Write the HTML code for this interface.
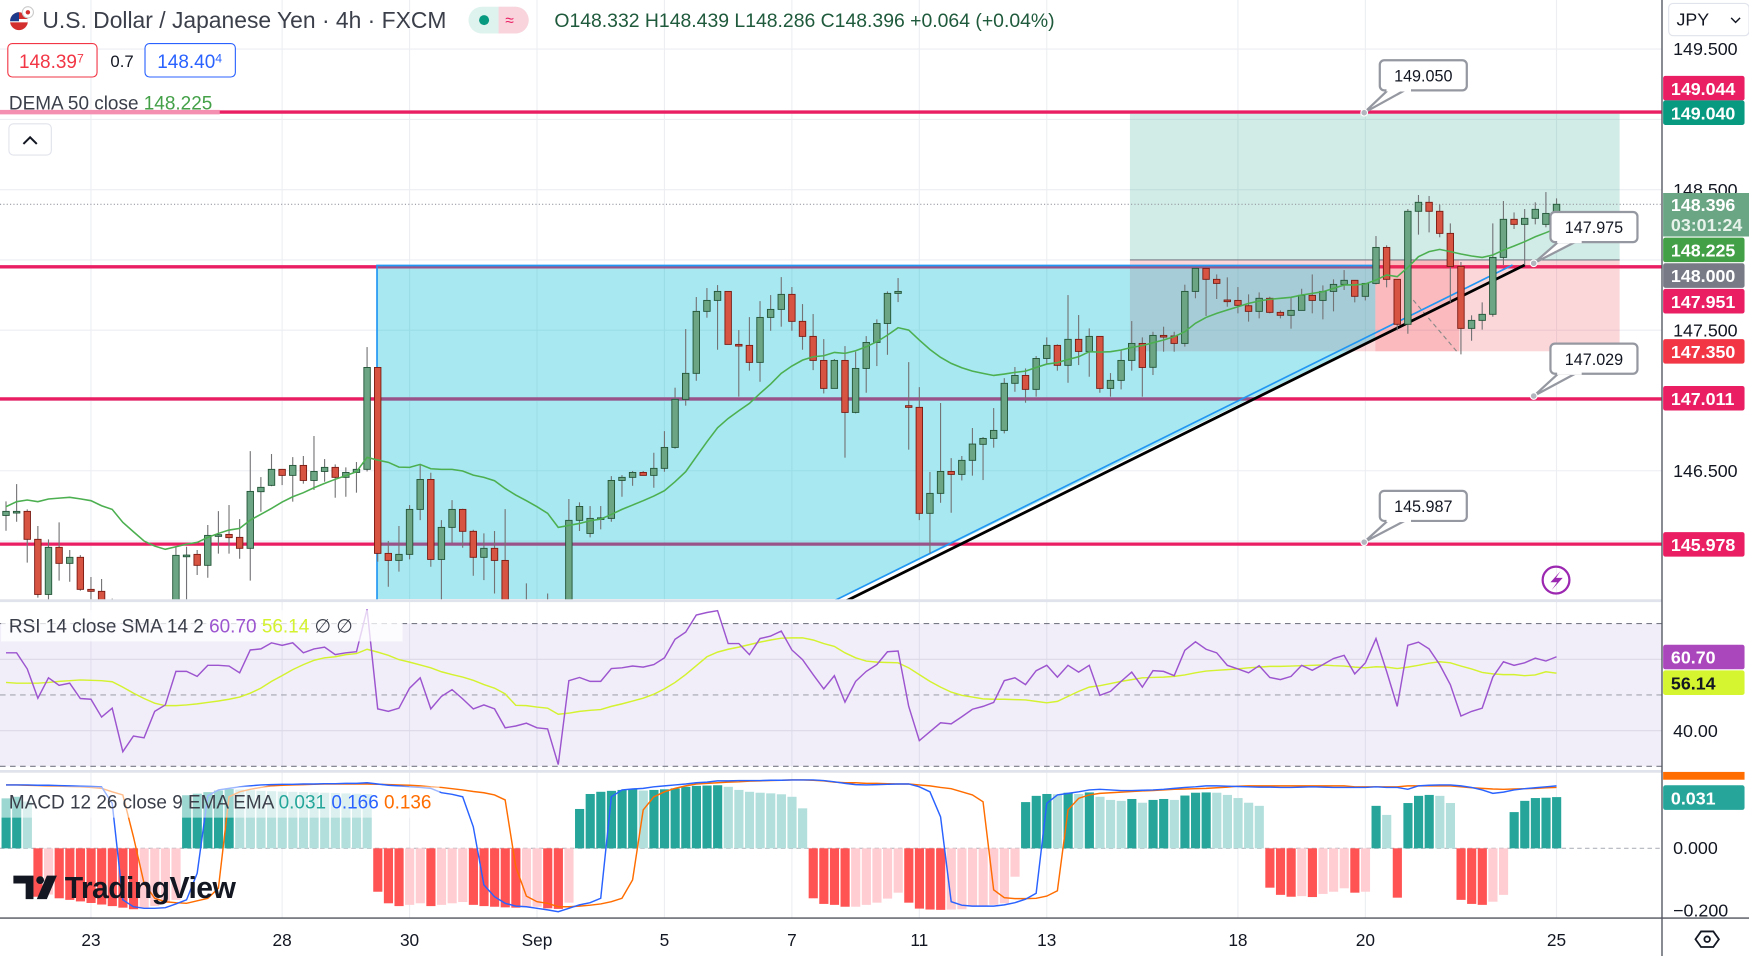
<!DOCTYPE html>
<html><head><meta charset="utf-8">
<style>
html,body{margin:0;padding:0;background:#fff;}
svg{display:block;font-family:"Liberation Sans",sans-serif;}
</style></head>
<body>
<svg id="chart" xmlns="http://www.w3.org/2000/svg" viewBox="0 0 1568 857" width="1749" height="956">
<defs>
<clipPath id="mainClip"><rect x="0" y="0" width="1490" height="538"/></clipPath>
<clipPath id="rsiClip"><rect x="0" y="540" width="1490" height="151"/></clipPath>
<clipPath id="macdClip"><rect x="0" y="693" width="1490" height="129"/></clipPath>
</defs>
<rect x="0" y="0" width="1568" height="857" fill="#ffffff"/>
<g id="grid"></g>
<g id="main" clip-path="url(#mainClip)"></g>
<g id="rsi" clip-path="url(#rsiClip)"></g>
<g id="macd" clip-path="url(#macdClip)"></g>
<g id="overlay"></g>
</svg>
<script>
// ---------- DATA ----------
const opens=[146.182,146.211,146.211,146.012,145.620,145.955,145.841,145.884,145.656,145.642,145.450,145.400,145.350,145.300,145.280,145.250,145.300,145.900,145.905,145.827,146.040,146.047,146.026,145.948,146.351,146.396,146.510,146.467,146.538,146.431,146.495,146.524,146.453,146.488,146.510,147.235,145.912,145.862,145.905,146.225,146.438,145.869,146.097,146.225,146.069,145.884,145.948,145.862,145.300,145.200,145.250,145.150,145.180,145.100,146.147,146.054,146.161,146.161,146.431,146.453,146.488,146.467,146.517,146.666,147.008,147.193,147.634,147.712,147.776,147.399,147.392,147.271,147.591,147.648,147.755,147.563,147.456,147.285,147.086,147.285,146.915,147.228,147.413,147.548,147.762,146.963,146.951,146.197,146.339,146.495,146.474,146.574,146.688,146.730,146.787,147.122,147.178,147.079,147.299,147.392,147.250,147.435,147.349,147.456,147.086,147.143,147.285,147.406,147.236,147.463,147.459,147.406,147.776,147.940,147.862,147.715,147.712,147.674,147.634,147.727,147.627,147.606,147.641,147.748,147.712,147.776,147.826,147.855,147.741,147.833,148.089,147.862,147.542,148.346,148.410,148.346,148.189,147.954,147.513,147.570,147.613,148.018,148.289,148.253,148.296,148.253,148.331];
const highs=[146.282,146.405,146.225,146.107,146.012,146.133,145.936,145.900,145.744,145.730,145.590,145.500,145.450,145.400,145.380,145.400,145.959,145.959,145.936,146.114,146.213,146.256,146.156,146.640,146.455,146.619,146.510,146.597,146.605,146.747,146.583,146.545,146.524,146.562,147.380,147.235,146.000,146.107,146.256,146.545,146.486,146.149,146.291,146.230,146.080,146.054,146.071,146.227,145.400,145.699,145.350,145.627,145.300,146.299,146.275,146.249,146.249,146.462,146.469,146.498,146.498,146.628,146.782,147.091,147.508,147.736,147.800,147.821,147.776,147.501,147.593,147.707,147.750,147.878,147.807,147.686,147.615,147.437,147.295,147.387,147.347,147.458,147.577,147.776,147.871,147.273,147.095,146.491,146.982,146.590,146.605,146.804,146.740,146.946,147.159,147.238,147.228,147.316,147.449,147.399,147.750,147.608,147.513,147.456,147.195,147.359,147.565,147.449,147.489,147.525,147.489,147.824,147.940,147.940,147.897,147.876,147.807,147.755,147.769,147.738,147.641,147.734,147.795,147.897,147.819,147.862,147.928,147.855,147.833,148.170,148.104,147.862,148.362,148.462,148.455,148.395,148.260,147.985,147.606,147.698,148.260,148.419,148.338,148.362,148.410,148.483,148.438];
const lows=[146.073,146.137,145.846,145.597,145.580,145.718,145.710,145.646,145.550,145.400,145.300,145.250,145.200,145.180,145.150,145.150,145.200,145.550,145.758,145.739,145.910,145.910,145.874,145.718,146.208,146.390,146.398,146.280,146.408,146.363,146.422,146.308,146.315,146.344,146.495,145.853,145.675,145.782,145.869,146.149,145.817,145.550,145.988,145.952,145.753,145.722,145.627,145.250,145.100,145.120,145.080,145.050,145.000,145.050,146.071,146.026,146.083,146.137,146.315,146.393,146.467,146.379,146.493,146.657,146.963,147.140,147.589,147.361,147.399,147.027,147.212,147.133,147.496,147.525,147.496,147.361,147.216,147.050,147.086,146.593,146.908,147.055,147.245,147.325,147.700,146.650,146.149,145.912,146.272,146.201,146.431,146.465,146.434,146.664,146.766,147.062,146.984,147.027,147.259,147.212,147.126,147.252,147.169,147.055,147.027,147.079,147.212,147.027,147.181,147.347,147.347,147.383,147.727,147.601,147.722,147.667,147.620,147.561,147.584,147.620,147.584,147.511,147.641,147.620,147.577,147.634,147.786,147.698,147.712,147.826,147.805,147.499,147.475,148.180,148.196,148.161,147.698,147.328,147.425,147.504,147.596,147.964,148.220,147.964,148.253,148.232,148.296];
const closes=[146.211,146.211,146.012,145.620,145.955,145.841,145.884,145.656,145.642,145.450,145.400,145.350,145.300,145.280,145.250,145.300,145.898,145.900,145.827,146.040,146.045,146.024,145.948,146.353,146.382,146.510,146.467,146.538,146.431,146.495,146.524,146.453,146.488,146.510,147.235,145.912,145.862,145.905,146.225,146.438,145.869,146.097,146.225,146.069,145.884,145.948,145.862,145.300,145.200,145.250,145.150,145.180,145.100,146.147,146.246,146.161,146.165,146.431,146.453,146.488,146.467,146.517,146.666,147.008,147.193,147.634,147.712,147.776,147.399,147.397,147.271,147.591,147.648,147.755,147.563,147.456,147.285,147.086,147.285,146.915,147.228,147.413,147.548,147.762,147.776,146.951,146.197,146.339,146.495,146.474,146.574,146.690,146.730,146.787,147.122,147.178,147.079,147.299,147.392,147.250,147.435,147.349,147.456,147.086,147.143,147.285,147.406,147.235,147.463,147.461,147.406,147.776,147.940,147.862,147.833,147.713,147.677,147.634,147.727,147.627,147.606,147.641,147.748,147.712,147.776,147.826,147.855,147.741,147.833,148.089,147.862,147.542,148.346,148.410,148.346,148.189,147.954,147.513,147.570,147.613,148.018,148.289,148.253,148.296,148.360,148.331,148.396];
const dema=[146.244,146.280,146.292,146.280,146.299,146.305,146.311,146.300,146.287,146.251,146.225,146.133,146.066,146.000,145.964,145.941,145.959,145.978,145.990,146.026,146.054,146.078,146.090,146.149,146.190,146.232,146.277,146.315,146.344,146.379,146.410,146.439,146.465,146.493,146.595,146.576,146.560,146.526,146.524,146.545,146.514,146.510,146.510,146.498,146.469,146.453,146.429,146.374,146.327,146.287,146.244,146.197,146.097,146.111,146.125,146.144,146.156,146.189,146.225,146.256,146.287,146.320,146.358,146.422,146.493,146.600,146.706,146.806,146.872,146.927,146.979,147.050,147.117,147.193,147.245,147.287,147.311,147.318,147.342,147.335,147.354,147.382,147.418,147.465,147.518,147.501,147.430,147.363,147.307,147.264,147.233,147.209,147.193,147.178,147.188,147.200,147.209,147.235,147.259,147.269,147.292,147.311,147.347,147.344,147.347,147.359,147.378,147.390,147.411,147.430,147.454,147.489,147.549,147.591,147.620,147.644,147.667,147.691,147.708,147.720,147.727,147.734,147.750,147.762,147.774,147.798,147.822,147.822,147.829,147.857,147.893,147.881,147.947,148.023,148.059,148.075,148.059,148.042,148.028,148.018,148.035,148.070,148.099,148.130,148.165,148.194,148.225];
const rsi=[61.8,61.8,57.3,49.1,54.8,52.7,53.3,49.0,48.8,43.8,46.3,34.1,38.5,38.0,45.4,47.2,56.6,56.6,55.2,58.3,58.3,58.1,56.2,62.6,62.9,64.6,63.9,64.6,61.8,62.9,63.4,61.3,61.8,62.1,74.0,46.1,45.4,46.3,51.9,54.8,46.1,49.6,51.5,48.9,46.1,47.2,46.1,40.8,41.3,42.1,40.8,40.5,30.5,54.0,54.9,53.8,53.8,57.4,57.6,58.1,57.8,58.5,60.4,65.6,67.6,72.4,73.1,73.6,64.4,64.4,61.3,65.8,66.5,67.9,62.6,59.9,55.7,51.7,55.4,48.0,53.8,56.6,58.5,62.1,62.3,46.8,37.2,39.7,42.2,41.9,43.9,46.0,46.8,47.9,54.0,54.8,52.9,56.8,58.3,55.0,58.3,56.4,58.3,49.9,51.0,53.8,56.4,52.2,56.8,56.6,55.4,62.5,64.9,62.8,61.8,58.3,57.3,56.2,58.2,54.9,54.3,55.2,58.3,56.9,58.5,60.2,61.1,55.9,59.0,65.8,56.6,46.8,63.9,64.8,62.9,58.5,52.9,44.1,45.4,46.3,55.0,59.3,58.3,59.0,60.3,59.5,60.7];
const rsiMa=[53.5,53.3,53.3,53.3,53.5,53.8,54.0,54.2,54.1,54.0,53.7,52.2,50.5,49.0,47.7,47.0,47.0,47.2,47.5,47.9,48.3,48.8,49.4,50.5,51.9,53.8,55.4,57.1,58.5,59.7,60.4,60.7,61.3,61.6,62.8,62.0,61.1,59.9,59.2,58.4,57.6,56.5,55.7,55.0,54.1,52.9,51.9,50.3,47.1,47.0,46.6,46.3,44.6,44.9,45.4,45.7,45.9,46.8,47.5,48.3,49.1,50.2,51.7,53.5,55.7,58.2,60.7,62.0,62.8,63.4,64.1,64.8,65.4,65.9,66.0,66.0,65.4,64.4,63.6,61.8,60.4,59.5,59.2,59.1,59.0,57.6,55.7,53.8,52.2,50.8,49.9,49.4,48.9,48.8,48.8,48.7,48.6,48.2,47.8,48.2,49.6,51.0,52.2,52.6,53.2,53.8,54.3,54.8,54.9,55.0,55.2,55.6,56.2,56.7,56.9,57.1,57.3,57.6,57.8,58.0,58.0,58.1,58.2,58.3,58.4,58.2,58.1,57.8,57.6,57.9,57.8,57.4,57.8,58.3,58.9,59.3,59.0,58.1,57.3,56.3,55.9,55.7,55.7,55.4,55.6,56.5,56.1];
const hist=[0.160,0.165,0.150,-0.155,-0.148,-0.160,-0.165,-0.170,-0.175,-0.180,-0.185,-0.190,-0.195,-0.190,-0.185,-0.175,-0.165,0.170,0.175,0.180,0.185,0.190,0.188,0.186,0.184,0.183,0.182,0.181,0.180,0.179,0.178,0.177,0.176,0.175,0.174,-0.139,-0.176,-0.185,-0.181,-0.176,-0.185,-0.181,-0.176,-0.172,-0.181,-0.185,-0.187,-0.189,-0.190,-0.189,-0.187,-0.192,-0.194,-0.174,0.126,0.174,0.181,0.184,0.187,0.190,0.185,0.187,0.189,0.192,0.197,0.200,0.201,0.202,0.197,0.187,0.181,0.178,0.176,0.173,0.165,0.128,-0.160,-0.178,-0.181,-0.187,-0.187,-0.181,-0.174,-0.161,-0.142,-0.174,-0.193,-0.196,-0.197,-0.196,-0.195,-0.187,-0.185,-0.181,-0.176,-0.091,0.148,0.168,0.174,0.173,0.178,0.174,0.179,0.165,0.155,0.152,0.158,0.146,0.155,0.158,0.155,0.169,0.178,0.179,0.178,0.171,0.161,0.146,0.136,-0.126,-0.149,-0.155,-0.153,-0.156,-0.146,-0.139,-0.128,-0.142,-0.139,0.136,0.107,-0.158,0.145,0.168,0.171,0.168,0.145,-0.165,-0.178,-0.181,-0.171,-0.149,0.116,0.152,0.161,0.162,0.164];
const macdLine=[0.203,0.203,0.203,0.202,0.202,0.201,0.200,0.199,0.198,0.197,0.144,-0.165,-0.187,-0.192,-0.192,-0.190,-0.178,-0.165,-0.080,0.168,0.187,0.192,0.197,0.200,0.203,0.204,0.205,0.205,0.206,0.206,0.207,0.207,0.208,0.208,0.210,0.206,0.202,0.200,0.197,0.195,0.192,0.178,0.173,0.165,0.069,-0.117,-0.155,-0.176,-0.185,-0.187,-0.192,-0.197,-0.203,-0.192,-0.181,-0.174,-0.160,0.165,0.187,0.190,0.192,0.197,0.200,0.203,0.206,0.210,0.212,0.216,0.216,0.217,0.217,0.217,0.218,0.218,0.219,0.219,0.219,0.217,0.213,0.208,0.204,0.203,0.204,0.205,0.206,0.206,0.197,0.181,0.101,-0.171,-0.182,-0.185,-0.185,-0.185,-0.181,-0.174,-0.163,-0.144,0.144,0.171,0.176,0.181,0.187,0.189,0.187,0.185,0.185,0.186,0.187,0.189,0.192,0.195,0.197,0.200,0.200,0.199,0.198,0.197,0.196,0.196,0.195,0.195,0.196,0.197,0.196,0.195,0.195,0.195,0.195,0.197,0.195,0.195,0.189,0.200,0.202,0.203,0.203,0.200,0.195,0.187,0.176,0.180,0.187,0.191,0.194,0.197,0.200];
const signalLine=[0.203,0.203,0.202,0.201,0.200,0.199,0.198,0.197,0.195,0.192,0.181,0.171,0.037,-0.112,-0.160,-0.171,-0.174,-0.176,-0.168,-0.160,-0.128,0.165,0.181,0.189,0.195,0.200,0.202,0.203,0.204,0.205,0.206,0.206,0.206,0.206,0.206,0.205,0.204,0.203,0.202,0.200,0.197,0.195,0.191,0.187,0.182,0.178,0.171,0.155,-0.059,-0.153,-0.171,-0.176,-0.187,-0.187,-0.185,-0.182,-0.178,-0.171,-0.160,-0.101,0.123,0.165,0.181,0.192,0.200,0.206,0.208,0.210,0.212,0.213,0.215,0.216,0.217,0.218,0.219,0.219,0.218,0.216,0.212,0.210,0.210,0.208,0.208,0.207,0.206,0.206,0.203,0.200,0.195,0.191,0.181,0.171,0.149,-0.133,-0.158,-0.161,-0.161,-0.160,-0.153,-0.136,0.123,0.160,0.171,0.176,0.178,0.180,0.182,0.184,0.185,0.187,0.189,0.190,0.191,0.192,0.194,0.196,0.199,0.200,0.200,0.200,0.200,0.200,0.200,0.200,0.200,0.200,0.200,0.197,0.197,0.197,0.197,0.197,0.200,0.200,0.200,0.200,0.200,0.197,0.194,0.192,0.190,0.189,0.190,0.191,0.192,0.194,0.195];
const dateLabels=["23","28","30","Sep","5","7","11","13","18","20","25"];
const dateIdx=[8,26,38,50,62,74,86,98,116,128,146];
const priceTicks=[149.5,149.0,148.5,148.0,147.5,147.0,146.5,146.0];
const priceTickLabels=["149.500","","148.500","","147.500","","146.500",""];
const levels=[149.044,147.951,147.011,145.978];
const levelLabels=["149.050","147.975","147.029","145.987"];

// ---------- SCALES ----------
const NS="http://www.w3.org/2000/svg";
const xI=i=>5.38+9.521*i;
const yP=p=>44+(149.5-p)*126;
const yR=v=>559+(70-v)*3.2;
const yM=v=>760.5-v*280;
function mk(tag,attrs,parent,text){const e=document.createElementNS(NS,tag);for(const k in attrs)e.setAttribute(k,attrs[k]);if(text!==undefined)e.textContent=text;parent.appendChild(e);return e;}
const grid=document.getElementById('grid'),main=document.getElementById('main'),rsiG=document.getElementById('rsi'),macdG=document.getElementById('macd'),ov=document.getElementById('overlay');

dateIdx.forEach((d,k)=>{const l=mk('line',{x1:xI(d),x2:xI(d),y1:0,y2:823,stroke:'#eceef2','stroke-width':1},grid);

});
priceTicks.forEach(p=>{const l=mk('line',{x1:0,x2:1490,y1:yP(p),y2:yP(p),stroke:'#eceef2','stroke-width':1},grid);

});

levels.forEach((lv,k)=>{const l=mk('line',{x1:0,x2:1490,y1:yP(lv)-(k==0?1:0),y2:yP(lv)-(k==0?1:0),stroke:'#e91e63','stroke-width':3},main);

});
{const l=mk('rect',{x:0,y:98.5,width:197,height:4,fill:'#f48fb1'},main);}

const x0=1013,x1=1452,xEnt=1233,xNow=1308;
{let r=mk('rect',{x:x0,y:yP(149.04),width:x1-x0,height:yP(148.0)-yP(149.04),fill:'#089981','fill-opacity':0.19},main);

r=mk('rect',{x:x0,y:yP(148.0),width:x1-x0,height:yP(147.35)-yP(148.0),fill:'#f23645','fill-opacity':0.2},main);

r=mk('rect',{x:xEnt,y:yP(148.0),width:xNow-xEnt,height:yP(147.35)-yP(148.0),fill:'#f23645','fill-opacity':0.18},main);

r=mk('line',{x1:x0,x2:x1,y1:yP(148.0),y2:yP(148.0),stroke:'#787b86','stroke-width':1},main);

r=mk('line',{x1:1267,y1:269,x2:1306,y2:315,stroke:'#888','stroke-width':1,'stroke-dasharray':'4 3'},main);
}

{const c=mk('polygon',{points:'338,238 1233,238 1233,303 752,537 338,537',fill:'#00bcd4','fill-opacity':0.34},main);

let l=mk('polyline',{points:'1233,238 338,238 338,540',fill:'none',stroke:'#2196f3','stroke-width':1.5},main);

l=mk('line',{x1:745,y1:540,x2:1356,y2:237.5,stroke:'#2196f3','stroke-width':1.5},main);

l=mk('line',{x1:756,y1:540,x2:1367,y2:237.5,stroke:'#000','stroke-width':2.5},main);
}

{const l=mk('line',{x1:0,x2:1490,y1:yP(148.396),y2:yP(148.396),stroke:'#9598a1','stroke-width':1,'stroke-dasharray':'1 2'},main);
}

for(let i=0;i<opens.length;i++){const x=xI(i),o=opens[i],c=closes[i],up=c>=o;
const w=mk('line',{x1:x,x2:x,y1:yP(highs[i]),y2:yP(lows[i]),stroke:'#737375','stroke-width':1},main);


const top=yP(Math.max(o,c)),h=Math.max(1.5,Math.abs(yP(o)-yP(c)));
const b=mk('rect',{x:x-2.9,y:top,width:5.8,height:h,fill:up?'#6ba583':'#d75442',stroke:up?'#225437':'#7a1a12','stroke-width':0.8},main);

}

{const d=mk('polyline',{points:dema.map((v,i)=>xI(i)+','+yP(v)).join(' '),fill:'none',stroke:'#4caf50','stroke-width':1.4},main);
}

const callAnch=[[1223,101],[1375,236],[1375,355],[1223,486]];
const callBox=[[1237,54],[1390,190],[1390,308],[1237,440]];
levelLabels.forEach((t,k)=>{const g=mk('g',{},main);


const [ax,ay]=callAnch[k],[bx,by]=callBox[k];
mk('polygon',{points:`${ax},${ay} ${bx+8},${by+26} ${bx+24},${by+26}`,fill:'#fff',stroke:'#9598a1','stroke-width':2,'stroke-linejoin':'round'},g);
mk('rect',{x:bx,y:by,width:78,height:27,rx:4,fill:'#fff',stroke:'#9598a1','stroke-width':2},g);
mk('rect',{x:bx+6,y:by+22,width:22,height:6,fill:'#fff'},g);
mk('circle',{cx:ax,cy:ay,r:3,fill:'#b2b5be',stroke:'#fff','stroke-width':1},g);
mk('text',{x:bx+39,y:by+19,'text-anchor':'middle','font-size':14.5,fill:'#131722'},g,t);});

{const g=mk('g',{},main);
mk('circle',{cx:1395,cy:520,r:12,fill:'none',stroke:'#9c27b0','stroke-width':2},g);
mk('path',{d:'M1399,512 L1390,522 L1396,522 L1391,529 L1401,518 L1395,518 Z',fill:'#9c27b0'},g);}

{let r=mk('rect',{x:0,y:yR(70),width:1490,height:yR(30)-yR(70),fill:'#7e57c2','fill-opacity':0.1},rsiG);

[60,40].forEach(v=>{const l=mk('line',{x1:0,x2:1490,y1:yR(v),y2:yR(v),stroke:'#dcd8e6','stroke-width':1},rsiG);});
[70,50,30].forEach(v=>{const l=mk('line',{x1:0,x2:1490,y1:yR(v),y2:yR(v),stroke:v==50?'#a3a6af':'#787b86','stroke-width':1,'stroke-dasharray':'5 4'},rsiG);});
let l=mk('polyline',{points:rsiMa.map((v,i)=>xI(i)+','+yR(v)).join(' '),fill:'none',stroke:'#d4f22f','stroke-width':1.3},rsiG);

l=mk('polyline',{points:rsi.map((v,i)=>xI(i)+','+yR(v)).join(' '),fill:'none',stroke:'#9c55cf','stroke-width':1.3},rsiG);
}

{const z=mk('line',{x1:0,x2:1490,y1:yM(0),y2:yM(0),stroke:'#b2b5be','stroke-width':1,'stroke-dasharray':'4 3'},macdG);

for(let i=0;i<hist.length;i++){const v=hist[i],p=i>0?hist[i-1]:0;let col;
if(v>=0)col=(i==0||v>p)?'#26a69a':'#b2dfdb';else col=(v<p)?'#ff5252':'#ffcdd2';
const y=Math.min(yM(0),yM(v)),h=Math.abs(yM(v)-yM(0));
const b=mk('rect',{x:xI(i)-4,y:y,width:8.2,height:h,fill:col},macdG);

}
let l=mk('polyline',{points:signalLine.map((v,i)=>xI(i)+','+yM(v)).join(' '),fill:'none',stroke:'#ff6d00','stroke-width':1.3},macdG);

l=mk('polyline',{points:macdLine.map((v,i)=>xI(i)+','+yM(v)).join(' '),fill:'none',stroke:'#2962ff','stroke-width':1.3},macdG);
}

[[0,538.5,1490,538.5],[0,691.5,1490,691.5]].forEach(s=>{const l=mk('line',{x1:s[0],y1:s[1],x2:s[2],y2:s[3],stroke:'#e0e3eb','stroke-width':2.5},ov);});
{let l=mk('line',{x1:0,y1:823,x2:1568,y2:823,stroke:'#50535e','stroke-width':1.2},ov);
l=mk('line',{x1:1490,y1:0,x2:1490,y2:857,stroke:'#50535e','stroke-width':1.2},ov);}

dateLabels.forEach((t,k)=>{const e=mk('text',{x:xI(dateIdx[k]),y:848,'text-anchor':'middle','font-size':15.5,fill:'#131722'},ov,t);

});
priceTicks.forEach((p,k)=>{if(!priceTickLabels[k])return;const e=mk('text',{x:1500,y:yP(p)+5.5,'font-size':16,fill:'#131722'},ov,priceTickLabels[k]);

});
</script>
<script>
(function(){
const NS="http://www.w3.org/2000/svg";const ov=document.getElementById('overlay');
function mk(tag,attrs,parent,text){const e=document.createElementNS(NS,tag);for(const k in attrs)e.setAttribute(k,attrs[k]);if(text!==undefined)e.textContent=text;parent.appendChild(e);return e;}
const badges=[[79,'#e91e63','149.044','#fff'],[101,'#089981','149.040','#fff'],[224,'#43a047','148.225','#fff'],[247,'#787b86','148.000','#fff'],[270,'#e91e63','147.951','#fff'],[315,'#f23645','147.350','#fff'],[357,'#e91e63','147.011','#fff'],[488,'#e91e63','145.978','#fff'],[589,'#ab47bc','60.70','#fff'],[612,'#d4f52f','56.14','#131722'],[715,'#26a69a','0.031','#fff']];
mk('rect',{x:1491,y:692,width:73,height:7,fill:'#ff6d00'},ov);
badges.forEach(b=>{const g=mk('g',{},ov);


mk('rect',{x:1491,y:b[0]-11,width:73,height:22,rx:2,fill:b[1]},g);
mk('text',{x:1498,y:b[0]+6,'font-size':16,'font-weight':'bold',fill:b[3]},g,b[2]);});
{const g=mk('g',{},ov);
mk('rect',{x:1491,y:173,width:77,height:39,fill:'#6aa584'},g);
mk('text',{x:1498,y:189,'font-size':16,'font-weight':'bold',fill:'#fff'},g,'148.396');
mk('text',{x:1498,y:207,'font-size':16,'font-weight':'bold',fill:'#e6f2ea'},g,'03:01:24');}
[[655,'40.00'],[760,'0.000'],[816,'−0.200']].forEach(t=>{const e=mk('text',{x:1500,y:t[0]+5.5,'font-size':16,fill:'#131722'},ov,t[1]);});
})();
</script>
<script>
(function(){
const svg=document.getElementById('chart');const NS="http://www.w3.org/2000/svg";
const html=`
<rect x="1491" y="0" width="77" height="37" fill="#fff"/>
<g><rect x="1496" y="3" width="72" height="29" rx="4" fill="#fff" stroke="#e0e3eb"/><text x="1503" y="23" font-size="16" fill="#131722">JPY</text><path d="M1552,16 L1556,20 L1560,16" fill="none" stroke="#131722" stroke-width="1.3"/></g>
<g><path d="M1520,842 L1525,835 L1536,835 L1541,842 L1536,849 L1525,849 Z" fill="none" stroke="#131722" stroke-width="1.6"/><circle cx="1530.5" cy="842" r="2.5" fill="none" stroke="#131722" stroke-width="1.6"/></g>
<g><circle cx="17" cy="19" r="8" fill="#d32f2f"/><rect x="9" y="17" width="16" height="3" fill="#fff"/><path d="M9,19 A8,8 0 0 1 17,11 L17,19 Z" fill="#1e3a8a"/><circle cx="25" cy="11" r="5" fill="#fff" stroke="#ccc"/><circle cx="25" cy="11" r="2" fill="#d32f2f"/></g>
<text x="38" y="25" font-size="20.5" fill="#3b3f4a">U.S. Dollar / Japanese Yen · 4h · FXCM</text>
<g><rect x="420" y="6" width="54" height="24" rx="12" fill="#dff3ee"/><path d="M447,6 L462,6 A12,12 0 0 1 462,30 L447,30 Z" fill="#fad4dc"/><circle cx="434" cy="18" r="4.5" fill="#089981"/><text x="453" y="23" font-size="14" fill="#e91e63">≈</text></g>
<text x="497" y="24" font-size="17.4" fill="#1f5a3c">O148.332 H148.439 L148.286 C148.396 +0.064 (+0.04%)</text>
<g><rect x="7" y="39" width="80" height="30" rx="4" fill="#fff" stroke="#f23645"/><text x="17" y="61" font-size="17" fill="#f23645">148.39<tspan font-size="11" dy="-5">7</tspan></text></g>
<text x="99" y="60" font-size="15" fill="#131722">0.7</text>
<g><rect x="130" y="39" width="81" height="30" rx="4" fill="#fff" stroke="#2962ff"/><text x="141" y="61" font-size="17" fill="#2962ff">148.40<tspan font-size="11" dy="-5">4</tspan></text></g>
<text x="8" y="98" font-size="17" fill="#3b3f4a">DEMA 50 close <tspan fill="#43a047">148.225</tspan></text>
<g><rect x="8" y="111" width="38" height="28" rx="4" fill="#fff" stroke="#e0e3eb"/><path d="M21,129 L27,123 L33,129" fill="none" stroke="#131722" stroke-width="1.8"/></g>
<g><rect x="1" y="547" width="360" height="28" fill="#fff" fill-opacity="0.75"/><text x="8" y="567" font-size="17" fill="#3b3f4a">RSI 14 close SMA 14 2 <tspan fill="#9c55cf">60.70</tspan> <tspan fill="#d4f22f">56.14</tspan> ∅ ∅</text></g>
<g><rect x="1" y="705" width="393" height="28" fill="#fff" fill-opacity="0.55"/><text x="8" y="725" font-size="17" fill="#3b3f4a">MACD 12 26 close 9 EMA EMA <tspan fill="#26a69a">0.031</tspan> <tspan fill="#2962ff">0.166</tspan> <tspan fill="#ff6d00">0.136</tspan></text></g>
<g><path d="M12,785 L30,785 L30,806 L23,806 L23,792 L12,792 Z" fill="#131722"/><circle cx="36" cy="789" r="3.5" fill="#131722"/><path d="M42,785 L51,785 L42,806 L33,806 Z" fill="#131722"/><text x="58" y="805" font-size="27" font-weight="bold" fill="#131722" letter-spacing="-0.5">TradingView</text></g>
`;
const tmp=document.createElementNS(NS,'g');tmp.innerHTML=html;
while(tmp.firstChild){svg.appendChild(tmp.firstChild);}
})();
</script>
</body></html>
